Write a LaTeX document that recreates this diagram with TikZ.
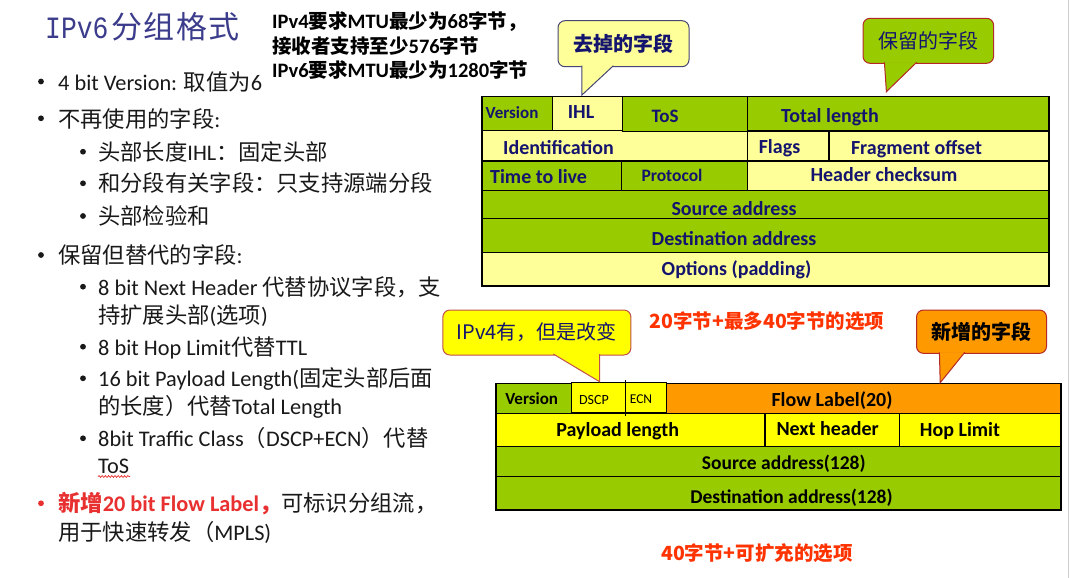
\documentclass[tikz,border=0pt]{standalone}
\usepackage{fontspec}
\setmainfont{Carlito}
\newfontfamily\cjk{Noto Sans CJK SC}
\newfontfamily\titlemono[FakeStretch=0.85]{Liberation Mono}
\usetikzlibrary{decorations.pathmorphing}
\newcommand\fs[1]{\fontsize{#1}{#1}\selectfont}
\newcommand\zh[1]{{\cjk #1}}
% Latin runs inside the bold CJK notes
\newcommand\lat[1]{{\rmfamily\bfseries\fs{20.5}#1}}

\definecolor{fieldgreen}{RGB}{153,204,0}
\definecolor{paleyellow}{RGB}{255,255,153}
\definecolor{brightyellow}{RGB}{255,255,0}
\definecolor{fieldorange}{RGB}{255,153,0}
\definecolor{navytext}{RGB}{20,20,110}
\definecolor{titleblue}{RGB}{60,60,140}
\definecolor{notered}{RGB}{255,51,0}
\definecolor{newred}{RGB}{232,48,48}
\definecolor{bodytext}{RGB}{25,25,25}
\definecolor{calloutred}{RGB}{180,40,40}
\definecolor{calloutrose}{RGB}{192,80,77}
\definecolor{calloutnavy}{RGB}{70,70,115}
\definecolor{edgegrey}{RGB}{205,205,205}

\begin{document}
\begin{tikzpicture}[x=1pt,y=-1pt,
  body/.style={inner sep=0pt, anchor=base west, text=bodytext, font=\fs{22.3}},
  note/.style={inner sep=0pt, anchor=base west, text=black, font=\cjk\bfseries\fs{19.5}},
  rednote/.style={inner sep=0pt, text=notered, font=\cjk\bfseries\fs{19.5}},
  v4lbl/.style={inner sep=0pt, anchor=base, text=navytext, font=\bfseries\fs{20}},
  v6lbl/.style={inner sep=0pt, anchor=base, text=black, font=\bfseries\fs{20}},
  cellbox/.style={line width=1.1pt, draw=black},
  callout/.style={rounded corners=7pt, line width=1pt, inner sep=0pt},
  pointer/.style={line width=1pt, line join=miter}
]
\path[use as bounding box, fill=white] (0,0) rectangle (1074,578);
\draw[edgegrey, line width=1pt] (1068,0) -- (1068,578);

% ---- title and MTU notes ----
\node[inner sep=0pt, anchor=base west, text=titleblue] (title) at (45,38.5)
  {{\titlemono\fs{31}IPv6}\hspace{3pt}{\cjk\fs{31}分\hspace{1.5pt}组\hspace{1.5pt}格\hspace{1.5pt}式}};
\node[note] (mtu1) at (272,29) {\lat{IPv4}要求\lat{MTU}最少为\lat{68}字节，};
\node[note] (mtu2) at (272,54) {接收者支持至少\lat{576}字节};
\node[note] (mtu3) at (272,77.4) {\lat{IPv6}要求\lat{MTU}最少为\lat{1280}字节};

% ---- bullet list ----
\foreach \y in {81.5,118.3,255} \fill[bodytext] (41,\y) circle (2.9);
\foreach \y in {151.7,183.3,216,286.7,346.7,378.3,438.3} \fill[bodytext] (83,\y) circle (2.9);
\fill[newred] (41,503.3) circle (2.9);

\node[body] (b1) at (58,90) {4 bit Version: \zh{取值为}6};
\node[body] (b2) at (58,127) {\zh{不再使用的字段}:};
\node[body] (b3) at (98,160.2) {\zh{头部长度}IHL\zh{：固定头部}};
\node[body] (b4) at (98,191.8) {\zh{和分段有关字段：只支持源端分段}};
\node[body] (b5) at (98,224.5) {\zh{头部检验和}};
\node[body] (b6) at (58,263.5) {\zh{保留但替代的字段}:};
\node[body] (b7) at (98,295.2) {8 bit Next Header \zh{代替协议字段，支}};
\node[body] (b8) at (98,323.5) {\zh{持扩展头部}(\zh{选项})};
\node[body] (b9) at (98,355.2) {8 bit Hop Limit\zh{代替}TTL};
\node[body] (b10) at (98,386.8) {16 bit Payload Length(\zh{固定头部后面}};
\node[body] (b11) at (98,414.5) {\zh{的长度）代替}Total Length};
\node[body] (b12) at (98,446.8) {8bit Traffic Class\zh{（}DSCP+ECN\zh{）代替}};
\node[body] (b13) at (98,473) {ToS};
\draw[newred, line width=0.7pt, decorate, decoration={snake, amplitude=0.9pt, segment length=3.2pt}]
  (b13.base west) ++(0,3.5) -- ++(32,0);
\node[body] (b14) at (58,511.8) {{\color{newred}\bfseries\zh{新增}20 bit Flow Label\zh{，}}\zh{可标识分组流，}};
\node[body] (b15) at (58,540.2) {\zh{用于快速转发（}MPLS)};

% ---- IPv4 header ----
\filldraw[cellbox, fill=paleyellow] (482,130.7) rectangle (747.9,161);
\filldraw[cellbox, fill=paleyellow] (747.9,130.7) rectangle (829,161);
\filldraw[cellbox, fill=paleyellow] (829,130.7) rectangle (1049,161);
\filldraw[cellbox, fill=fieldgreen] (482,161) rectangle (621.3,190.7);
\filldraw[cellbox, fill=fieldgreen] (621.3,161) rectangle (747.9,190.7);
\filldraw[cellbox, fill=paleyellow] (747.9,161) rectangle (1049,190.7);
\filldraw[cellbox, fill=fieldgreen] (482,190.7) rectangle (1049,218.3);
\filldraw[cellbox, fill=fieldgreen] (482,218.3) rectangle (1049,252.3);
\filldraw[cellbox, fill=paleyellow] (482,252.3) rectangle (1049,286);
\filldraw[cellbox, fill=fieldgreen] (482,96.7) rectangle (552.8,130.7);
\filldraw[cellbox, fill=paleyellow] (552.8,96.7) rectangle (622.4,130.7);
\filldraw[cellbox, fill=fieldgreen] (622.4,96.7) rectangle (747.9,131.7);
\filldraw[cellbox, fill=fieldgreen] (747.9,96.7) rectangle (1049,131.7);
\draw[cellbox] (747.9,130.2) -- (1049,130.2);

\node[v4lbl, font=\bfseries\fs{17}] (v4ver) at (512,118.2) {Version};
\node[v4lbl] (v4ihl) at (581,118) {IHL};
\node[v4lbl, font=\bfseries\fs{19}] (v4tos) at (665,122) {ToS};
\node[v4lbl] (v4tot) at (830,122.5) {Total length};
\node[v4lbl] (v4id) at (558.5,154.8) {Identification};
\node[v4lbl] (v4flags) at (779.5,153.8) {Flags};
\node[v4lbl] (v4frag) at (916.5,154.8) {Fragment offset};
\node[v4lbl] (v4ttl) at (538.6,183.8) {Time to live};
\node[v4lbl, font=\bfseries\fs{17.5}] (v4proto) at (672,181.6) {Protocol};
\node[v4lbl] (v4sum) at (884,181.5) {Header checksum};
\node[v4lbl] (v4src) at (734,215.5) {Source address};
\node[v4lbl] (v4dst) at (734,245.5) {Destination address};
\node[v4lbl] (v4opt) at (736.5,275.5) {Options (padding)};

% ---- IPv6 header ----
\filldraw[cellbox, fill=brightyellow] (496,413.3) rectangle (765,446.3);
\filldraw[cellbox, fill=brightyellow] (765,413.3) rectangle (899.8,446.3);
\filldraw[cellbox, fill=brightyellow] (899.8,413.3) rectangle (1061,446.3);
\filldraw[cellbox, fill=fieldgreen] (496,446.3) rectangle (1061,476.7);
\filldraw[cellbox, fill=fieldgreen] (496,476.7) rectangle (1061,510);
\filldraw[cellbox, fill=fieldgreen] (496,383.3) rectangle (571.9,413.3);
\filldraw[cellbox, fill=fieldorange] (666.6,383.3) rectangle (1061,413.3);
\filldraw[cellbox, fill=brightyellow] (571.9,382.3) rectangle (666.6,412.6);
\draw[line width=0.8pt] (625.8,380) -- (625.8,415.5);

\node[v6lbl, font=\bfseries\fs{17}] (v6ver) at (531.7,404.5) {Version};
\node[v6lbl, font=\fs{14}] (v6dscp) at (594,404.5) {DSCP};
\node[v6lbl, font=\fs{13.5}] (v6ecn) at (641,403.2) {ECN};
\node[v6lbl] (v6flow) at (832,406.5) {Flow Label(20)};
\node[v6lbl] (v6len) at (617.7,436.5) {Payload length};
\node[v6lbl] (v6next) at (827.6,435.8) {Next header};
\node[v6lbl] (v6hop) at (960,436.5) {Hop Limit};
\node[v6lbl, font=\bfseries\fs{19.5}] (v6src) at (783.8,469.2) {Source address(128)};
\node[v6lbl, font=\bfseries\fs{19.5}] (v6dst) at (791.5,503) {Destination address(128)};

\node[rednote] (v4size) at (767,320.7) {20字节+最多40字节的选项};
\node[rednote] (v6size) at (757,553.3) {40字节+可扩充的选项};

% ---- callouts ----
\node[callout, fill=paleyellow, draw=calloutnavy, minimum width=131pt, minimum height=46pt,
      text=navytext, font=\cjk\bfseries\fs{20}] (removed) at (623.5,43.7) {去掉的字段};
\coordinate (removedtip) at (581.9,95);
\filldraw[pointer, fill=paleyellow, draw=calloutnavy]
  (581.9,65.7) -- (removedtip) -- (613.4,65.7);

\node[callout, fill=fieldgreen, draw=calloutred, minimum width=130.6pt, minimum height=45pt,
      text=navytext, font=\cjk\fs{20}] (kept) at (928.3,40.8) {保留的字段};
\coordinate (kepttip) at (886.4,91.7);
\filldraw[pointer, fill=fieldgreen, draw=calloutred]
  (884.4,62.3) -- (kepttip) -- (916.7,62.3);

\node[callout, fill=brightyellow, draw=calloutrose, minimum width=188pt, minimum height=45pt,
      text=navytext, font=\cjk\fs{20}] (changed) at (536.9,332.5) {IPv4有，但是改变};
\coordinate (changedtip) at (599.6,381.7);
\filldraw[pointer, fill=brightyellow, draw=calloutrose]
  (553.3,354) -- (changedtip) -- (599.6,354);

\node[callout, fill=fieldorange, draw=calloutred, minimum width=130pt, minimum height=43.3pt,
      text=black, font=\cjk\bfseries\fs{20}] (added) at (981.5,331.7) {新增的字段};
\coordinate (addedtip) at (940.2,382.7);
\filldraw[pointer, fill=fieldorange, draw=calloutred]
  (939.4,352.3) -- (addedtip) -- (964.8,352.3);
\end{tikzpicture}
\end{document}
